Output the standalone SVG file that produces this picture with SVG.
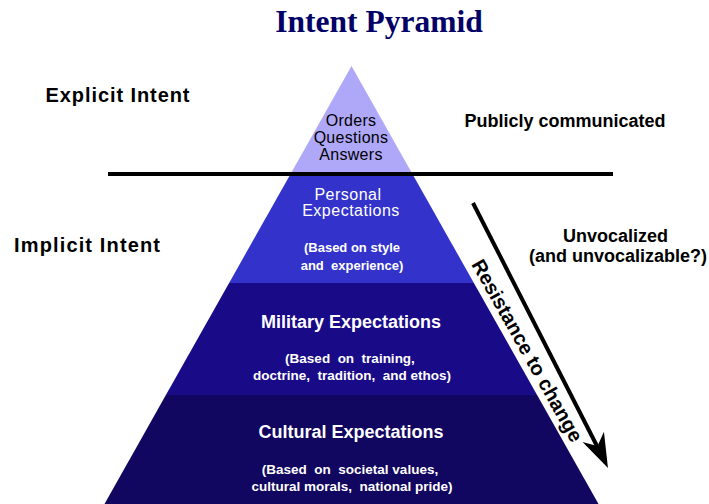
<svg xmlns="http://www.w3.org/2000/svg" width="709" height="504" viewBox="0 0 709 504">
<style>
  .lab{font-family:"Liberation Sans",Arial,sans-serif;font-weight:bold;font-size:20px;fill:#000}
  .side{font-family:"Liberation Sans",Arial,sans-serif;font-weight:bold;font-size:18px;fill:#000;text-anchor:middle}
  .head{font-family:"Liberation Sans",Arial,sans-serif;font-weight:bold;font-size:18px;fill:#fff;text-anchor:middle}
  .sub{font-family:"Liberation Sans",Arial,sans-serif;font-weight:bold;font-size:13.5px;fill:#fff;text-anchor:middle;white-space:pre}
  .top{font-family:"Liberation Sans",Arial,sans-serif;font-size:16px;fill:#000;text-anchor:middle;letter-spacing:0.3px}
  .pers{font-family:"Liberation Sans",Arial,sans-serif;font-size:16px;fill:#fff;text-anchor:middle;letter-spacing:0.5px}
</style>
<rect width="709" height="504" fill="#fff"/>
<text x="379" y="32" font-family="'Liberation Serif','Times New Roman',serif" font-weight="bold" font-size="31.5" fill="#000066" text-anchor="middle">Intent Pyramid</text>

<g id="tier-explicit">
  <polygon points="351.5,66 413,175 290,175" fill="#AFA8F8"/>
  <text class="top" x="351" y="126">Orders</text>
  <text class="top" x="351" y="142.5">Questions</text>
  <text class="top" x="351" y="159.5">Answers</text>
</g>
<g id="tier-personal">
  <polygon points="290,175 413,175 473.9,283 229.1,283" fill="#3333CC"/>
  <text class="pers" x="348" y="199.5">Personal</text>
  <text class="pers" x="351" y="216">Expectations</text>
  <text class="sub" x="352" y="251.5" style="font-size:13px">(Based on style</text>
  <text class="sub" x="352" y="269.5" style="font-size:13px">and  experience)</text>
</g>
<g id="tier-military">
  <polygon points="229.1,283 473.9,283 537.1,395 165.9,395" fill="#190A88"/>
  <text class="head" x="351" y="327.5">Military Expectations</text>
  <text class="sub" x="350" y="362.5">(Based  on  training,</text>
  <text class="sub" x="352" y="380">doctrine,  tradition,  and ethos)</text>
</g>
<g id="tier-cultural">
  <polygon points="165.9,395 537.1,395 598.5,504 104.5,504" fill="#110660"/>
  <text class="head" x="351" y="437.5">Cultural Expectations</text>
  <text class="sub" x="350" y="474">(Based  on  societal values,</text>
  <text class="sub" x="352" y="491">cultural morals,  national pride)</text>
</g>

<g id="labels">
  <text class="lab" x="45.5" y="101.7" textLength="144" lengthAdjust="spacing">Explicit Intent</text>
  <text class="lab" x="14" y="252.3" textLength="146" lengthAdjust="spacing">Implicit Intent</text>
  <text class="side" x="565" y="126.7">Publicly communicated</text>
  <text class="side" x="615.5" y="242">Unvocalized</text>
  <text class="side" x="618" y="261.7">(and unvocalizable?)</text>
</g>

<g id="connectors">
  <line x1="108" y1="174" x2="613" y2="174" stroke="#000" stroke-width="4"/>
  <line x1="473" y1="203" x2="598" y2="448" stroke="#000" stroke-width="4"/>
  <polygon points="607,466 603.5,434.5 597.9,447 585,443.5" fill="#000" stroke="#000" stroke-width="1.5" stroke-linejoin="miter"/>
  <text transform="translate(527.5,350.5) rotate(60.7)" font-family="'Liberation Sans',Arial,sans-serif" font-weight="bold" font-size="20" text-anchor="middle" dy="0.35em" fill="#000">Resistance to change</text>
</g>
</svg>
